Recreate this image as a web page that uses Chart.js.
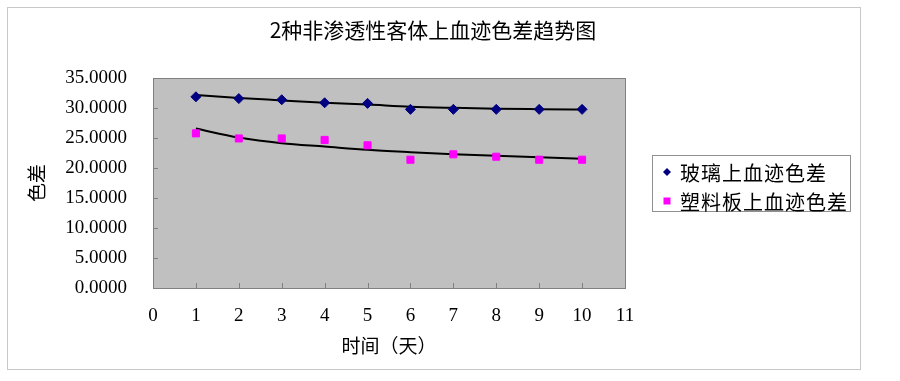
<!DOCTYPE html>
<html lang="zh-CN">
<head>
    <meta charset="UTF-8">
    <title>2种非渗透性客体上血迹色差趋势图</title>
    <script src="https://cdn.jsdelivr.net/npm/chart.js"></script>
    <style>
        html, body { margin: 0; padding: 0; background: #fff; }
    </style>
</head>
<body>
    <canvas id="grafico" width="900" height="381"></canvas>

    <script>
        // dados
        const dias = [1, 2, 3, 4, 5, 6, 7, 8, 9, 10];
        const vidro = [31.9, 31.6, 31.4, 30.9, 30.8, 29.8, 29.8, 29.8, 29.8, 29.8];
        const plastico = [25.8, 24.95, 24.95, 24.7, 23.8, 21.4, 22.3, 21.9, 21.4, 21.4];
        const tendVidro = [32.2, 31.7, 31.3, 30.9, 30.6, 30.25, 30.05, 29.9, 29.83, 29.78];
        const tendPlastico = [26.6, 25.1, 24.15, 23.6, 23.05, 22.65, 22.3, 22.05, 21.8, 21.55];
        const rotulos = ['玻璃上血迹色差', '塑料板上血迹色差'];
        const xLimites = [0, 11];
        const yLimites = [0, 35];

        const pontos = (ys) => dias.map((d, i) => ({ x: d, y: ys[i] }));
        const serif = 'Liberation Serif';
        const cjk = 'Noto Sans CJK SC';

        const fundo = {
            id: 'fundo',
            beforeDraw(chart) {
                const { ctx, chartArea: a } = chart;
                ctx.save();
                ctx.fillStyle = '#fff';
                ctx.fillRect(0, 0, chart.width, chart.height);
                ctx.strokeStyle = '#c8c8c8';
                ctx.lineWidth = 1;
                ctx.strokeRect(7.5, 7.5, 853, 362);
                ctx.fillStyle = '#c0c0c0';
                ctx.fillRect(a.left, a.top, a.width, a.height);
                ctx.restore();
            },
            beforeDatasetsDraw(chart) {
                const { ctx, chartArea: a, scales } = chart;
                ctx.save();
                ctx.strokeStyle = '#808080';
                ctx.lineWidth = 1;
                ctx.beginPath();
                scales.x.ticks.forEach(t => {
                    const px = Math.round(scales.x.getPixelForValue(t.value)) + 0.5;
                    ctx.moveTo(px, a.bottom);
                    ctx.lineTo(px, a.bottom - 5);
                });
                scales.y.ticks.forEach(t => {
                    const py = Math.round(scales.y.getPixelForValue(t.value)) + 0.5;
                    ctx.moveTo(a.left, py);
                    ctx.lineTo(a.left + 5, py);
                });
                ctx.stroke();
                ctx.strokeRect(Math.round(a.left) + 0.5, Math.round(a.top) + 0.5, Math.round(a.width), Math.round(a.height));
                ctx.restore();
            }
        };

        const legenda = {
            id: 'legenda',
            afterDraw(chart) {
                const { ctx, chartArea: a } = chart;
                const x = Math.round(a.right) + 27;
                const y = 155;
                ctx.save();
                ctx.fillStyle = '#fff';
                ctx.fillRect(x, y, 198, 56);
                ctx.strokeStyle = '#909090';
                ctx.lineWidth = 1;
                ctx.strokeRect(x + 0.5, y + 0.5, 198, 56);
                ctx.font = '20px "' + cjk + '"';
                ctx.letterSpacing = '1px';
                ctx.textBaseline = 'middle';
                chart.data.datasets.slice(0, 2).forEach((ds, i) => {
                    const cy = y + 17 + i * 29;
                    const cx = x + 15;
                    ctx.fillStyle = ds.backgroundColor;
                    if (ds.pointStyle === 'rectRot') {
                        ctx.beginPath();
                        ctx.moveTo(cx - 4, cy);
                        ctx.lineTo(cx, cy - 4);
                        ctx.lineTo(cx + 4, cy);
                        ctx.lineTo(cx, cy + 4);
                        ctx.closePath();
                        ctx.fill();
                    } else {
                        ctx.fillRect(cx - 3.5, cy - 3.5, 7, 7);
                    }
                    ctx.fillStyle = '#000';
                    ctx.fillText(ds.label, x + 28, cy + 1);
                });
                ctx.restore();
            }
        };

        new Chart(document.getElementById('grafico'), {
            type: 'scatter',
            data: {
                datasets: [{
                    label: rotulos[0],
                    data: pontos(vidro),
                    pointStyle: 'rectRot',
                    pointRadius: 5,
                    borderWidth: 1,
                    backgroundColor: '#000080',
                    borderColor: '#000080',
                    order: 0
                }, {
                    label: rotulos[1],
                    data: pontos(plastico),
                    pointStyle: 'rect',
                    pointRadius: 5,
                    borderWidth: 1,
                    backgroundColor: '#ff00ff',
                    borderColor: '#ff00ff',
                    order: 0
                }, {
                    label: 'tendencia1',
                    type: 'line',
                    data: pontos(tendVidro),
                    borderColor: '#000',
                    borderWidth: 2,
                    pointRadius: 0,
                    fill: false,
                    cubicInterpolationMode: 'monotone',
                    order: 1
                }, {
                    label: 'tendencia2',
                    type: 'line',
                    data: pontos(tendPlastico),
                    borderColor: '#000',
                    borderWidth: 2,
                    pointRadius: 0,
                    fill: false,
                    cubicInterpolationMode: 'monotone',
                    order: 1
                }]
            },
            options: {
                responsive: false,
                animation: false,
                layout: { padding: { left: 0, right: 34, top: 0, bottom: 0 } },
                plugins: {
                    legend: { display: false },
                    tooltip: { enabled: false },
                    title: {
                        display: true,
                        text: '2种非渗透性客体上血迹色差趋势图',
                        color: '#000',
                        font: { family: cjk, size: 21, weight: 'normal' },
                        padding: { top: 17, bottom: 36 }
                    }
                },
                scales: {
                    x: {
                        type: 'linear',
                        position: 'bottom',
                        min: xLimites[0],
                        max: xLimites[1],
                        grid: { display: false, drawTicks: false },
                        border: { display: false },
                        ticks: { stepSize: 1, padding: 17, color: '#000', font: { family: serif, size: 19 } },
                        title: {
                            display: true,
                            text: '时间（天）',
                            color: '#000',
                            font: { family: cjk, size: 19 },
                            padding: { top: 0, bottom: 24 }
                        },
                        afterFit: s => { s.height = 93; }
                    },
                    y: {
                        min: yLimites[0],
                        max: yLimites[1],
                        grid: { display: false, drawTicks: false },
                        border: { display: false },
                        ticks: {
                            stepSize: 5,
                            padding: 26,
                            color: '#000',
                            font: { family: serif, size: 19 },
                            callback: v => v.toFixed(4)
                        },
                        title: {
                            display: true,
                            text: '色差',
                            color: '#000',
                            font: { family: cjk, size: 19 },
                            padding: { top: 25, bottom: 0 }
                        },
                        afterFit: s => { s.width = 153; }
                    },
                    espaco: {
                        position: 'right',
                        grid: { display: false, drawTicks: false },
                        border: { display: false },
                        ticks: { display: false },
                        afterFit: s => { s.width = 241; }
                    }
                }
            },
            plugins: [fundo, legenda]
        });
    </script>
</body>
</html>
